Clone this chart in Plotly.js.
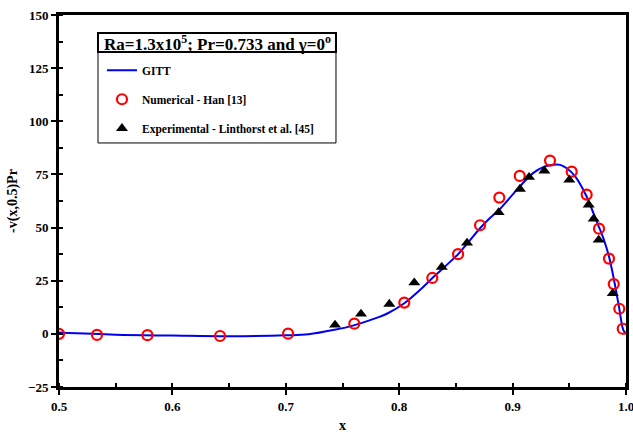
<!DOCTYPE html>
<html>
<head>
<meta charset="utf-8">
<script src="https://cdn.plot.ly/plotly-3.0.1.min.js"></script>
<style>html,body{margin:0;padding:0;background:#fff;}#chart{width:633px;height:433px;}</style>
</head>
<body>
<div id="chart"></div>
<script>
// GITT curve
const gittX = [0.5,0.55,0.6,0.65,0.7,0.72,0.743,0.76,0.78,0.79,0.8045,0.82,0.8286,0.84,0.852,0.86,0.8713,0.88,0.888,0.9,0.9063,0.918,0.928,0.936,0.942,0.9477,0.955,0.9653,0.97,0.976,0.98,0.985,0.99,0.994,0.9976,1.0];
const gittY = [0.6,-0.4,-0.8,-1.1,-0.7,-0.2,1.9,4.0,7.5,9.7,14.4,21.5,25.9,31.5,37.5,42.5,49.7,54.5,58.3,65.5,69.3,75.6,78.7,79.6,79.5,77.9,74.2,64.6,58.5,50.5,45.0,36.4,23.8,12.1,1.9,0.0];
// Numerical - Han [13]
const hanX = [0.5,0.5335,0.578,0.642,0.702,0.7604,0.8045,0.8292,0.8519,0.8713,0.8883,0.9063,0.933,0.9521,0.9653,0.9762,0.985,0.9892,0.9941,0.9971];
const hanY = [0.0,-0.5,-0.6,-1.0,0.1,4.8,14.7,26.3,37.5,51.1,64.1,74.3,81.5,76.3,65.5,49.5,35.4,23.4,11.8,2.4];
// Experimental - Linthorst et al. [45]
const expX = [0.7434,0.7663,0.7913,0.8133,0.8375,0.8598,0.8877,0.9065,0.9145,0.928,0.95,0.9671,0.9715,0.9759,0.9883];
const expY = [4.2,9.4,14.0,24.1,31.4,42.8,57.1,68.1,73.7,76.7,72.4,60.7,54.1,44.2,19.0];

const xTicks = [0.5,0.6,0.7,0.8,0.9,1.0];
const xTickText = ['0.5','0.6','0.7','0.8','0.9','1.0'];
const yTicks = [-25,0,25,50,75,100,125,150];

const serif = 'Liberation Serif, Times New Roman, serif';

const traces = [
  {x: gittX, y: gittY, type:'scatter', mode:'lines', name:'GITT', legendgroup:'a',
   line:{color:'#0000ee', width:2, shape:'spline', smoothing:1}},
  {x: hanX, y: hanY, type:'scatter', mode:'markers', name:'Numerical - Han [13]', legendgroup:'b',
   marker:{symbol:'circle-open', size:10, color:'#ff0000', line:{width:2.2, color:'#ff0000'}}},
  {x: expX, y: expY, type:'scatter', mode:'markers', name:'Experimental - Linthorst et al. [45]', legendgroup:'c',
   marker:{symbol:'triangle-up', size:10.5, color:'#000000'}}
];

const axisCommon = {
  showline:true, linecolor:'#000', linewidth:3, mirror:true,
  showgrid:false, zeroline:false,
  ticks:'outside', ticklen:5, tickwidth:2, tickcolor:'#000',
  ticklabeloverflow:'allow',
  tickfont:{family:serif, size:13, color:'#000', weight:'bold'}
};

const layout = {
  width:633, height:433,
  margin:{l:59, r:7, t:15, b:46},
  paper_bgcolor:'#fff', plot_bgcolor:'#fff',
  showlegend:true,
  legend:{x:0.0758, y:0.8904, xanchor:'left', yanchor:'top', bgcolor:'rgba(0,0,0,0)', borderwidth:0,
          traceorder:'grouped', tracegroupgap:10, itemwidth:30,
          font:{family:serif, size:11.5, color:'#000', weight:'bold'}},
  xaxis: Object.assign({}, axisCommon, {
    range:[0.5,1.0], tickvals:xTicks, ticktext:xTickText,
    minor:{dtick:0.05, tick0:0.5, ticks:'inside', ticklen:4, tickwidth:2, tickcolor:'#000'},
    title:{text:'x', font:{family:serif, size:14, color:'#000', weight:'bold'}, standoff:12}
  }),
  yaxis: Object.assign({}, axisCommon, {
    range:[-25,150], tickvals:yTicks,
    minor:{dtick:12.5, tick0:0, ticks:'inside', ticklen:4, tickwidth:2, tickcolor:'#000'},
    title:{text:'-v(x,0.5)Pr', font:{family:serif, size:14, color:'#000', weight:'bold'}, standoff:8}
  }),
  shapes:[
    {type:'rect', xref:'paper', yref:'paper', x0:0.0688, x1:0.4885, y0:0.656, y1:0.9005,
     line:{color:'#000', width:1}, fillcolor:'rgba(0,0,0,0)', layer:'below'},
    {type:'rect', xref:'paper', yref:'paper', x0:0.0688, x1:0.4885, y0:0.9005, y1:0.9516,
     line:{color:'#000', width:2}, fillcolor:'#fff'}
  ],
  annotations:[
    {xref:'paper', yref:'paper', x:0.2787, y:0.926, xanchor:'center', yanchor:'middle', showarrow:false,
     text:'Ra=1.3x10<sup>5</sup>; Pr=0.733 and γ=0<sup>o</sup>',
     font:{family:serif, size:17, color:'#000', weight:'bold'}}
  ]
};

Plotly.newPlot('chart', traces, layout, {displayModeBar:false, staticPlot:true});
</script>
</body>
</html>
